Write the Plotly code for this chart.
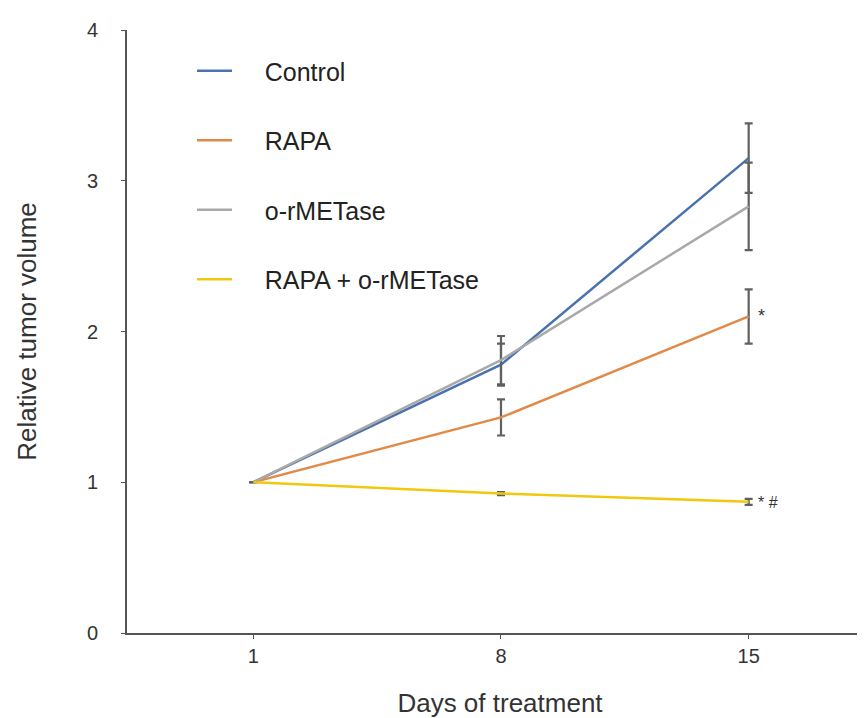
import plotly.graph_objects as go

days = ["1", "8", "15"]
series_names = ["Control", "RAPA", "o-rMETase", "RAPA + o-rMETase"]
control = [1.0, 1.78, 3.15]
control_err = [0.0, 0.14, 0.23]
rapa = [1.0, 1.43, 2.10]
rapa_err = [0.0, 0.12, 0.18]
ormetase = [1.0, 1.81, 2.83]
ormetase_err = [0.0, 0.16, 0.29]
combo = [1.0, 0.925, 0.87]
combo_err = [0.0, 0.01, 0.02]
colors = ["#4a72b0", "#e08a4a", "#a9a9a9", "#f2c80f"]
y_ticks = [0, 1, 2, 3, 4]

values = [control, rapa, ormetase, combo]
errors = [control_err, rapa_err, ormetase_err, combo_err]

pad = "\u00a0" * 4

fig = go.Figure()
for i, (name, v, e, c) in enumerate(zip(series_names, values, errors, colors)):
    fig.add_trace(go.Scatter(
        x=days, y=v, name=pad + name, mode="lines",
        line=dict(color=c, width=2.5),
        error_y=dict(type="data", array=e, visible=True, color="#606060",
                     thickness=2.2, width=4),
        legendgroup=str(i),
    ))

last = len(days) - 1
fig.add_annotation(x=last, y=rapa[last], text="*", showarrow=False,
                   xanchor="left", xshift=7, yshift=0,
                   font=dict(family="Arial", size=18, color="#333333"))
fig.add_annotation(x=last, y=combo[last], text="* #", showarrow=False,
                   xanchor="left", xshift=7, yshift=-1,
                   font=dict(family="Arial", size=16, color="#333333"))

fig.update_layout(
    width=865, height=718,
    margin=dict(l=119, r=0, t=22, b=93),
    paper_bgcolor="white", plot_bgcolor="white",
    font=dict(family="Arial", size=20, color="#333333"),
    showlegend=True,
    legend=dict(x=0.0871, y=0.970, xanchor="left", yanchor="top",
                bgcolor="rgba(0,0,0,0)", traceorder="grouped",
                tracegroupgap=34, itemwidth=35,
                font=dict(size=25, color="#222222")),
    xaxis=dict(type="category", range=[-0.51, 2.502], automargin=False,
               showline=True, linecolor="#555555", linewidth=2,
               ticks="outside", ticklen=4, tickcolor="#555555",
               showgrid=False, zeroline=False, ticklabelstandoff=0,
               title=dict(text="Days of treatment", font=dict(size=26),
                          standoff=28)),
    yaxis=dict(range=[0, 4], tickvals=y_ticks, automargin=False,
               showline=True, linecolor="#555555", linewidth=2,
               ticks="outside", ticklen=4, tickcolor="#555555",
               showgrid=False, zeroline=False, ticklabelstandoff=19,
               title=dict(text="Relative tumor volume", font=dict(size=26),
                          standoff=43)),
)

fig.write_html("out.html")
